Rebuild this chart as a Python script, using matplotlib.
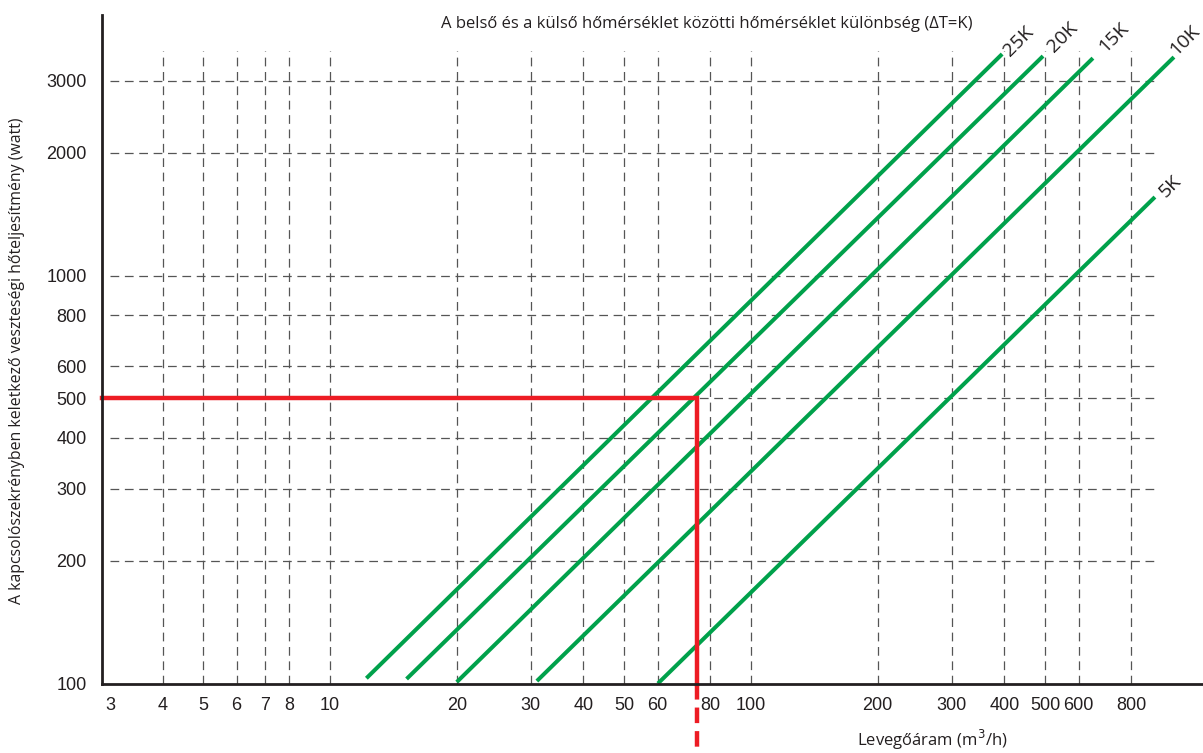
import matplotlib
matplotlib.use("Agg")
import matplotlib.pyplot as plt

# ---- data ----
x_ticks = [3, 4, 5, 6, 7, 8, 10, 20, 30, 40, 50, 60, 80, 100, 200, 300, 400, 500, 600, 800]
x_grid = [4, 5, 6, 7, 8, 10, 20, 30, 40, 50, 60, 80, 100, 200, 300, 400, 500, 600, 800]
y_ticks = [100, 200, 300, 400, 500, 600, 800, 1000, 2000, 3000]
y_grid = [200, 300, 400, 500, 600, 800, 1000, 2000, 3000]

dt_labels = ["25K", "20K", "15K", "10K", "5K"]
line_x_start = [12.2, 15.2, 20.0, 31.0, 60.1]
line_y_start = [103, 102.6, 100.8, 101.4, 100]
line_x_end = [395, 494, 649, 1011, 911]
line_y_end = [3490, 3450, 3410, 3430, 1557]
label_x = [432, 550, 726, 1070, 990]
label_y = [3750, 3840, 3830, 3780, 1650]

red_x = 74.5
red_y = 500

title = "A belső és a külső hőmérséklet közötti hőmérséklet különbség (ΔT=K)"
xlabel = "Levegőáram (m$^3$/h)"
ylabel = "A kapcsolószekrényben keletkező veszteségi hőteljesítmény (watt)"

# ---- figure ----
W, H = 1203, 753
fig = plt.figure(figsize=(W / 100, H / 100), dpi=100)
ax = fig.add_axes([102 / W, (H - 683.5) / H, (W - 102) / W, (683.5 - 15) / H])
ax.set_xscale("log")
ax.set_yscale("log")
xmin, xmax = 2.873, 1185
ymin, ymax = 100, 4350
ax.set_xlim(xmin, xmax)
ax.set_ylim(ymin, ymax)

txt = "#231f20"
grid_kw = dict(color="#555555", lw=0.9, linestyle=(0, (7, 4.5)), zorder=1)
ax.vlines(x_grid, ymin, 3550, **grid_kw)
ax.hlines(y_grid, 3.0, 926, **grid_kw)

green = "#00a14b"
for xs, ys, xe, ye, lab, lx, ly in zip(line_x_start, line_y_start, line_x_end,
                                       line_y_end, dt_labels, label_x, label_y):
    ax.plot([xs, xe], [ys, ye], color=green, lw=2.9, solid_capstyle="butt", zorder=3)
    ax.text(lx, ly, lab, rotation=45, rotation_mode="anchor", ha="center", va="center",
            fontsize=14, family="Open Sans", color=txt, clip_on=False)

red = "#ed1c24"
ax.plot([xmin, red_x, red_x], [red_y, red_y, ymin], color=red, lw=3.2,
        solid_joinstyle="miter", zorder=4, clip_on=False)
ax.plot([red_x, red_x], [ymin, 60], color=red, lw=3.2, linestyle=(0, (3.5, 1.8)),
        zorder=4, clip_on=False)

for s in ["top", "right"]:
    ax.spines[s].set_visible(False)
for s in ["left", "bottom"]:
    ax.spines[s].set_linewidth(2.0)
    ax.spines[s].set_color(txt)
    ax.spines[s].set_zorder(5)

ax.set_xticks(x_ticks)
ax.set_xticklabels([str(v) for v in x_ticks])
ax.set_yticks(y_ticks)
ax.set_yticklabels([str(v) for v in y_ticks])
ax.minorticks_off()
ax.tick_params(axis="both", length=0, labelsize=13, labelcolor=txt)
ax.tick_params(axis="x", pad=10)
ax.tick_params(axis="y", pad=11)
for t in ax.get_xticklabels() + ax.get_yticklabels():
    t.set_family("Liberation Sans")

fig.text(707 / W, 1 - 24 / H, title, ha="center", va="center", fontsize=12,
         family="Open Sans", color=txt)
fig.text(932 / W, 1 - 740 / H, xlabel, ha="center", va="center", fontsize=12,
         family="Open Sans", color=txt)
fig.text(17 / W, 1 - 361 / H, ylabel, ha="center", va="center", rotation=90,
         fontsize=11.4, family="Open Sans", color=txt)

fig.savefig("out.png", dpi=100, facecolor="white")
